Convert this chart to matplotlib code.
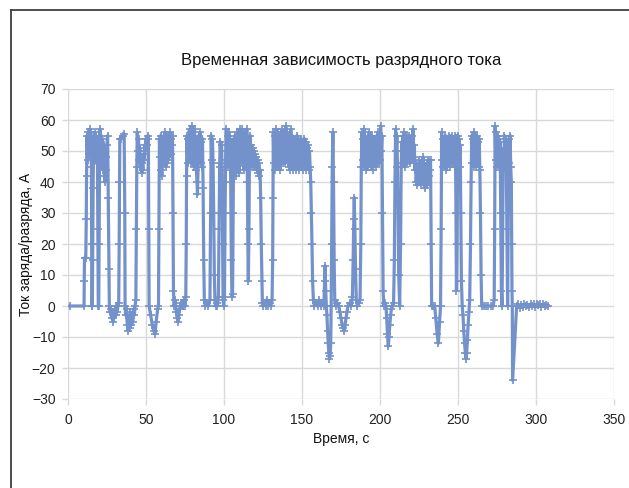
import matplotlib
matplotlib.use("Agg")
import matplotlib.pyplot as plt
from matplotlib.lines import Line2D

# (time, current) samples
samples = [
    # idle, then first pulses
    (1.3, 0), (10.3, 0), (10.4, 8), (10.6, 15.5), (11.4, 15.5), (11.7, 28), (11.9, 42),
    (12.2, 55), (12.6, 47), (13, 56), (13.4, 49), (13.8, 57), (14.2, 50), (14.6, 56),
    (15, 45), (15.2, 20), (15.3, 0), (15.6, 0), (15.8, 15), (16.1, 38), (16.4, 54),
    (16.8, 47), (17.2, 56), (17.6, 48), (18, 55), (18.4, 46), (18.8, 54), (19.1, 25),
    (19.4, 0), (19.7, 0), (19.9, 20), (20.2, 45), (20.5, 57), (20.9, 48), (21.3, 55),
    (21.7, 46), (22.1, 54), (22.5, 44), (22.9, 52), (23.3, 42), (23.7, 40), (24.1, 48),
    (24.5, 44), (24.9, 52), (25.4, 55), (25.8, 35), (26.2, 12), (26.5, 0),
    # small negative band and second group
    (27, -2), (27.5, -1), (28, -4), (28.5, -2), (29, -5), (29.5, -3), (30, -1),
    (30.5, -3), (31, 0), (31.5, -2), (32, 0), (32.5, 1), (32.8, 20), (33, 40),
    (33.2, 54), (34, 54), (35, 55), (36, 55.5), (36.4, 30), (36.6, 0), (37, -3),
    (37.5, -1), (38, -6), (38.5, -8), (39, -4), (39.5, -7), (40, -2), (40.5, -6),
    (41, -3), (41.5, -5), (42, -1), (42.5, -3), (43, 0), (43.5, 2), (43.8, 25),
    (44.1, 45), (44.4, 56), (44.8, 50), (45.2, 54), (45.6, 47), (46, 51), (46.4, 45),
    (46.8, 48), (47.2, 43), (47.6, 46), (48, 44), (48.4, 49), (48.8, 47), (49.2, 52),
    (49.6, 50), (50, 54), (50.5, 52), (51, 54), (51.5, 55), (51.8, 25), (52, 0),
    (53, -3), (54, -6), (55, -8), (55.8, -9), (56.5, -5), (57.5, -1), (58, 0),
    # third group
    (58.3, 25), (58.6, 54), (59, 48), (59.4, 55), (59.8, 44), (60.2, 42), (60.6, 50),
    (61, 46), (61.4, 55), (61.8, 48), (62.2, 56), (62.6, 45), (63, 53), (63.4, 46),
    (63.8, 55), (64.2, 47), (64.6, 54), (65, 48), (65.4, 56), (65.8, 49), (66.2, 54),
    (66.6, 52), (67, 55), (67.3, 30), (67.6, 5), (68, 0), (68.5, 2), (69, 0),
    (69.5, -2), (70, -4), (70.5, -5), (71, -3), (71.5, -1), (72, 0), (72.5, 1),
    (73, 0), (73.5, 1), (74, 0), (74.5, 2), (75, 0), (75.5, 3),
    (75.8, 20), (76, 42), (76.3, 55), (76.7, 46), (77.1, 54), (77.5, 47), (77.9, 57),
    (78.3, 48), (78.7, 56), (79.1, 46), (79.5, 58), (79.9, 47), (80.3, 55), (80.7, 45),
    (81.1, 57), (81.5, 48), (81.9, 54), (82.3, 44), (82.7, 40), (83, 36), (83.4, 45),
    (83.8, 55), (84.2, 47), (84.6, 56), (85, 46), (85.4, 53), (85.8, 45), (86.2, 54),
    (86.6, 38), (87, 15), (87.4, 2), (88, 0), (89, 1), (90, 0), (91, 2),
    (91.4, 30), (91.8, 55), (92.2, 47), (92.6, 54), (93, 46), (93.4, 30), (93.8, 10),
    (94.2, 2), (94.6, 0), (95.2, 1), (95.8, 0), (96.4, 3), (96.8, 25), (97.2, 45),
    (97.6, 53), (98, 46), (98.4, 52), (98.8, 44), (99.1, 20), (99.4, 2), (99.8, 0),
    (100.3, 3), (100.7, 30), (101.1, 50), (101.5, 57), (101.9, 47), (102.3, 55),
    (102.7, 45), (103.1, 56), (103.5, 46), (103.9, 54), (104.3, 40), (104.7, 15),
    (105.1, 3), (105.5, 4),
    (105.9, 30), (106.2, 54), (106.6, 45), (107, 55), (107.4, 42), (107.8, 53),
    (108.2, 44), (108.6, 56), (109, 46), (109.4, 55), (109.8, 43), (110.2, 57),
    (110.6, 48), (111, 55), (111.4, 57), (111.8, 46), (112.2, 54), (112.6, 44),
    (113, 56), (113.4, 47), (113.8, 55), (114.2, 45), (114.6, 57), (115, 40),
    (115.3, 20), (115.6, 8), (116, 25), (116.3, 48), (116.7, 55), (117.1, 46),
    (117.5, 52), (117.9, 45), (118.3, 51), (118.7, 47), (119.1, 50), (119.5, 45),
    (119.9, 49), (120.3, 46), (120.7, 48), (121.1, 44), (121.5, 47), (121.9, 43),
    (122.3, 46), (122.7, 42), (123.1, 44), (123.5, 35), (123.9, 20), (124.3, 8),
    (124.6, 1), (125.2, 0), (126, 1), (126.8, 0), (127.6, 2), (128.4, 0), (129.2, 1),
    (130, 0), (130.8, 2), (131.2, 15),
    # long charge block
    (131.4, 35), (131.6, 56), (132, 46), (132.4, 55), (132.8, 44), (133.2, 57),
    (133.6, 47), (134, 54), (134.4, 45), (134.8, 56), (135.2, 46), (135.6, 53),
    (136, 44), (136.4, 55), (136.8, 47), (137.2, 57), (137.6, 46), (138, 54),
    (138.4, 48), (138.8, 55), (139.2, 46), (139.6, 58), (140, 48), (140.4, 56),
    (140.8, 47), (141.2, 55), (141.6, 45), (142, 53), (142.4, 44), (142.8, 57),
    (143.2, 47), (143.6, 55), (144, 44), (144.4, 53), (144.8, 46), (145.2, 54),
    (145.6, 45), (146, 52), (146.4, 44), (146.8, 55), (147.2, 46), (147.6, 54),
    (148, 44), (148.4, 52), (148.8, 45), (149.2, 54), (149.6, 46), (150, 53),
    (150.4, 44), (150.8, 52), (151.2, 45), (151.6, 54), (152, 47), (152.4, 53),
    (152.8, 44), (153.2, 51), (153.6, 45), (154, 52), (154.4, 44), (154.8, 50),
    (155.2, 45), (155.6, 40), (156, 30), (156.4, 20), (156.8, 8), (157.3, 2), (158, 0),
    # regenerative dips
    (159, 1), (160, 0), (161, 2), (162, 0), (163, 1), (164, 0), (164.5, 8),
    (164.8, 13), (165.2, 5), (165.6, 0), (166, -3), (166.4, -8), (166.8, -12),
    (167.2, -15), (167.6, -17), (168, -16), (168.4, -12), (168.7, 0), (169, 20),
    (169.4, 45), (169.8, 56), (170.2, 40), (170.6, 15), (171, 2), (171.5, 0),
    (172.5, 1), (173.5, 0), (174.3, -2), (175, -4), (175.7, -6), (176.3, -7),
    (177, -8), (177.6, -6), (178.2, -4), (178.8, -2), (179.5, 0), (180.5, 1),
    (181.5, 0), (182.3, 3), (182.8, 15), (183.2, 28), (183.5, 35), (183.9, 25),
    (184.3, 12), (184.8, 2), (185.5, 0), (186.3, 1), (187.2, 2),
    (187.7, 20), (188, 45), (188.4, 56), (188.8, 47), (189.2, 54), (189.6, 45),
    (190, 57), (190.4, 48), (190.8, 53), (191.2, 44), (191.6, 50), (192, 45),
    (192.4, 55), (192.8, 47), (193.2, 56), (193.6, 46), (194, 52), (194.4, 45),
    (194.8, 55), (195.2, 44), (195.6, 50), (196, 46), (196.4, 54), (196.8, 47),
    (197.2, 52), (197.6, 45), (198, 55), (198.4, 48), (198.8, 56), (199.2, 46),
    (199.6, 53), (200, 47), (200.4, 58), (200.8, 50), (201.2, 55), (201.6, 30),
    (202, 5), (202.4, 0), (203.2, 1), (203.8, 0), (204.3, -4), (204.8, -9),
    (205.3, -13), (205.8, -10), (206.3, -6), (206.8, -3), (207.3, -1), (208, 0),
    (208.7, 1), (209.2, 15),
    (209.6, 40), (210, 57), (210.4, 50), (210.8, 55), (211.2, 45), (211.6, 30),
    (212, 10), (212.6, 0), (213.2, 20), (213.6, 45), (214, 53), (214.4, 46),
    (214.8, 55), (215.2, 47), (215.6, 56), (216, 45), (216.4, 53), (216.8, 47),
    (217.2, 55), (217.6, 46), (218, 54), (218.4, 47), (218.8, 55), (219.2, 46),
    (219.6, 54), (220, 48), (220.4, 55), (220.8, 47), (221.2, 57), (221.6, 48),
    (222, 52), (222.4, 44), (222.8, 46), (223.2, 40), (223.6, 44), (224, 39),
    (224.4, 45), (224.8, 41), (225.2, 47), (225.6, 40), (226, 46), (226.4, 39),
    (226.8, 44), (227.2, 41), (227.6, 48), (228, 42), (228.4, 46), (228.8, 38),
    (229.2, 44), (229.6, 40), (230, 46), (230.4, 39), (230.8, 47), (231.2, 42),
    (231.6, 47), (232, 44), (232.4, 47), (232.8, 20), (233.1, 0), (234, 0),
    (235, 0), (235.8, -4), (236.6, -9), (237.4, -12), (238.2, -5), (238.8, 0),
    (239.2, 25), (239.5, 56),
    (239.9, 47), (240.3, 54), (240.7, 45), (241.1, 53), (241.5, 46), (241.9, 55),
    (242.3, 44), (242.7, 52), (243.1, 45), (243.5, 54), (243.9, 47), (244.3, 55),
    (244.7, 45), (245.1, 53), (245.5, 46), (245.9, 55), (246.3, 47), (246.7, 54),
    (247.1, 46), (247.5, 53), (247.9, 45), (248.3, 55), (248.7, 30), (249, 5),
    (249.4, 20), (249.8, 55), (250.2, 47), (250.6, 54), (251, 45), (251.4, 52),
    (251.8, 30), (252.2, 8), (252.7, 0), (253.2, -3), (253.7, -8), (254.2, -12),
    (254.7, -15), (255.2, -17), (255.6, -15), (256, -11), (256.5, -6), (257, -2),
    (257.5, 2), (258, 20), (258.4, 40), (258.8, 55), (259.2, 46), (259.6, 54),
    (260, 45), (260.4, 56), (260.8, 47), (261.2, 54), (261.6, 45), (262, 55),
    (262.4, 46), (262.8, 53), (263.2, 45), (263.6, 54), (264, 44), (264.4, 30),
    (264.8, 10), (265.2, 0),
    # last block, deep regen spike, idle tail
    (266.5, 0), (268, 0), (269.5, 0), (271, 0), (272.5, 0), (273.2, 2), (273.5, 25),
    (273.8, 58), (274.2, 47), (274.6, 56), (275, 45), (275.4, 55), (275.8, 46),
    (276.2, 54), (276.6, 45), (277, 53), (277.4, 30), (277.8, 5), (278.2, 0),
    (278.6, 20), (279, 50), (279.4, 46), (279.8, 55), (280.2, 45), (280.6, 54),
    (281, 44), (281.4, 20), (281.8, 0), (282.2, 25), (282.6, 54), (283, 46),
    (283.4, 55), (283.8, 45), (284.2, 40), (284.4, 20), (284.6, 5), (284.8, 0),
    (285, -24), (287.6, 0),
    (288.5, 0.5), (289.5, -0.5), (290.5, 0.3), (291.5, -0.3), (292.5, 0.5), (293.5, 0),
    (294.5, 0.4), (295.5, -0.4), (296.5, 0.6), (297.5, 0), (298.5, 0.5), (299.5, -0.3),
    (300.5, 0.7), (301.5, 0.2), (302.5, 0.6), (303.5, -0.2), (304.5, 0.5), (305.5, 0),
    (306.5, 0.4), (307.7, 0),
]
time_s = [s[0] for s in samples]
current_a = [s[1] for s in samples]

x_ticks = [0, 50, 100, 150, 200, 250, 300, 350]
y_ticks = [-30, -20, -10, 0, 10, 20, 30, 40, 50, 60, 70]

title = "Временная зависимость разрядного тока"
x_label = "Время, с"
y_label = "Ток заряда/разряда, А"


def build_chart() -> None:
    plt.rcParams["font.family"] = ["Liberation Sans", "DejaVu Sans"]

    fig = plt.figure(figsize=(6.29, 4.88), dpi=100)
    ax = fig.add_axes([68 / 629, 1 - 399 / 488, 546 / 629, 310 / 488])

    ax.plot(time_s, current_a, color="#7391CB", lw=2.3, marker="+",
            markersize=6, mew=1.2, zorder=3)

    ax.set_xlim(0, 350)
    ax.set_ylim(-30, 70)
    ax.set_xticks(x_ticks)
    ax.set_yticks(y_ticks)
    ax.grid(True, color="#D9D9D9", lw=1)
    ax.set_axisbelow(True)
    for sp in ax.spines.values():
        sp.set_visible(False)
    ax.tick_params(length=4, width=1, color="#D9D9D9", labelsize=10,
                   labelcolor="#222222")
    ax.tick_params(axis="x", pad=6)
    ax.tick_params(axis="y", pad=5)

    ax.set_title(title, fontsize=12, color="#111111", pad=17)
    ax.set_xlabel(x_label, fontsize=10, color="#111111", labelpad=4)
    ax.set_ylabel(y_label, fontsize=10, color="#111111")
    ax.yaxis.set_label_coords(-0.064, 0.5)

    # chart-area frame, cut by the picture edges
    fig.add_artist(Line2D([10.5 / 629, 10.5 / 629], [0, 1 - 9.5 / 488],
                          transform=fig.transFigure, color="#404040", lw=1.3))
    fig.add_artist(Line2D([10.5 / 629, 1], [1 - 9.5 / 488, 1 - 9.5 / 488],
                          transform=fig.transFigure, color="#404040", lw=1.3))

    fig.savefig("out.png", dpi=100)


def main() -> None:
    build_chart()


if __name__ == "__main__":
    main()
